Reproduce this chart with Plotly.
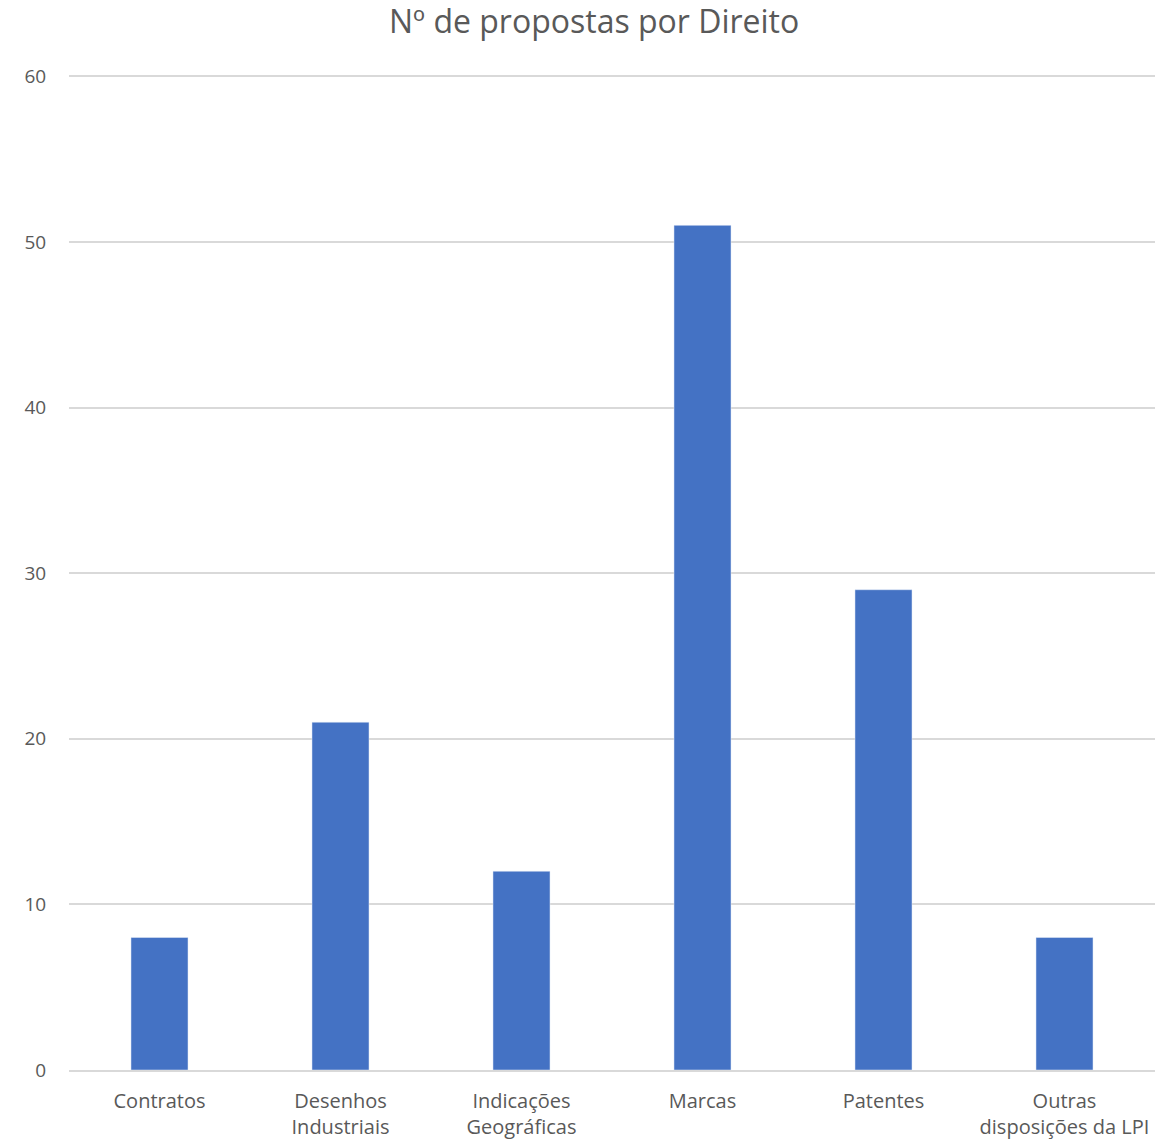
import plotly.graph_objects as go

categories = ["Contratos", "Desenhos<br>Industriais", "Indicações<br>Geográficas", "Marcas", "Patentes", "Outras<br>disposições da LPI"]
values = [8, 21, 12, 51, 29, 8]
y_ticks = [0, 10, 20, 30, 40, 50, 60]

fig = go.Figure(go.Bar(x=categories, y=values, marker_color="#4472C4", width=0.315))

fig.update_layout(
    width=1165, height=1144,
    margin=dict(l=69, r=10, t=73, b=74),
    paper_bgcolor="white", plot_bgcolor="white",
    title=dict(text="Nº de propostas por Direito", x=0.51, xanchor="center", y=0.981, yanchor="middle",
               font=dict(family="Open Sans, Liberation Sans, sans-serif", size=32, color="#595959")),
    font=dict(family="Open Sans, Liberation Sans, sans-serif", size=20, color="#595959"),
    showlegend=False,
)
fig.update_xaxes(showgrid=False, showline=True, linecolor="#d9d9d9", linewidth=1.5, tickangle=0,
                 ticks="outside", ticklen=12, tickcolor="rgba(0,0,0,0)", automargin=False)
fig.update_yaxes(range=[0, 60.2], tickvals=y_ticks, showgrid=True, gridcolor="#d9d9d9", gridwidth=1.5,
                 zeroline=False, showline=False, ticks="outside", ticklen=18, tickcolor="rgba(0,0,0,0)",
                 tickfont=dict(size=19), automargin=False)

fig.write_html("out.html")
